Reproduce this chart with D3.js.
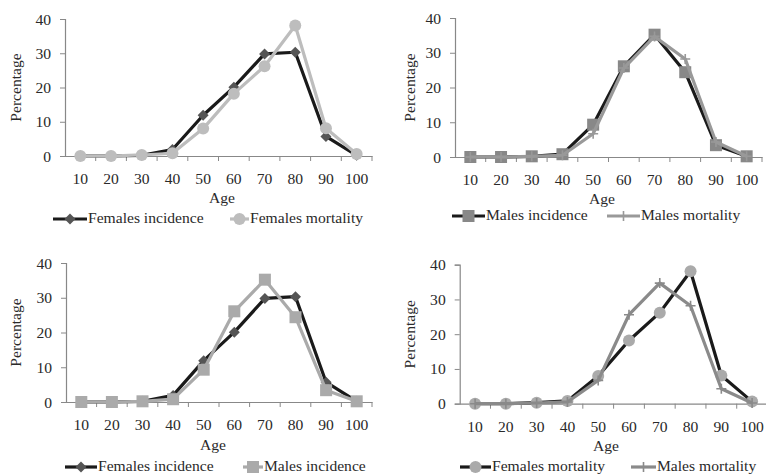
<!DOCTYPE html>
<html><head><meta charset="utf-8">
<script src="https://cdn.jsdelivr.net/npm/d3@7"></script>
<style>body{margin:0;background:#fff}svg{display:block}</style>
</head><body>
<svg id="c" width="766" height="474"></svg>
<script>
const ages = ["10","20","30","40","50","60","70","80","90","100"];
const yTicks = [0,10,20,30,40];
const femalesIncidence = [0,0,0.2,1.9,11.9,20.1,29.8,30.3,5.7,0.2];
const femalesMortality = [0,0,0.3,0.8,8.0,18.2,26.2,38.1,8.1,0.6];
const malesIncidence   = [0,0,0.2,0.8,9.3,26.1,35.2,24.4,3.4,0.2];
const malesMortality   = [0,0,0.2,0.5,6.7,25.6,34.7,28.2,4.3,0.2];

const svg = d3.select("#c");
const FONT = "'Liberation Serif','Times New Roman',serif";
const FS = 15.6;
const TXT = "#2a2a2a";

const styles = {
  fi: {name:"Females incidence", data:femalesIncidence, line:"#1a1a1a", fill:"#555", marker:"diamond"},
  fm: {name:"Females mortality", data:femalesMortality, line:"#bdbdbd", fill:"#bdbdbd", marker:"circle"},
  mi: {name:"Males incidence", data:malesIncidence, line:"#1a1a1a", fill:"#888", marker:"square"},
  mm: {name:"Males mortality", data:malesMortality, line:"#999", fill:"#999", marker:"plus"},
  mi3:{name:"Males incidence", data:malesIncidence, line:"#aaa", fill:"#aaa", marker:"square"},
  fm4:{name:"Females mortality", data:femalesMortality, line:"#1a1a1a", fill:"#aaa", marker:"circle"},
  mm4:{name:"Males mortality", data:malesMortality, line:"#8a8a8a", fill:"#8a8a8a", marker:"plus"}
};

const panels = [
  {x0:65, x1:372, yT:19, yB:156, series:["fi","fm"], ageY:199, ageX:222, pctX:17, legY:219, leg:[[53,87],[230,249]]},
  {x0:455, x1:762, yT:18, yB:157, series:["mi","mm"], ageY:200, ageX:602, pctX:411, legY:216, leg:[[452,485],[607,640]]},
  {x0:66, x1:372, yT:263, yB:402, series:["fi","mi3"], ageY:446, ageX:213, pctX:17, legY:467, leg:[[65,97],[243,263]]},
  {x0:459.7, x1:767.5, yT:264.7, yB:403.7, series:["fm4","mm4"], ageY:447, ageX:606, pctX:411, legY:467, leg:[[460,491],[631,656]]}
];

function drawMarker(g, type, x, y, fill){
  if(type==="diamond"){
    g.append("path").attr("d",`M${x},${y-5.5}L${x+5.5},${y}L${x},${y+5.5}L${x-5.5},${y}Z`).attr("fill",fill);
  } else if(type==="circle"){
    g.append("circle").attr("cx",x).attr("cy",y).attr("r",6).attr("fill",fill);
  } else if(type==="square"){
    g.append("rect").attr("x",x-6).attr("y",y-6).attr("width",12).attr("height",12).attr("fill",fill);
  } else if(type==="plus"){
    g.append("path").attr("d",`M${x-5},${y}H${x+5}M${x},${y-5}V${y+5}`).attr("stroke",fill).attr("stroke-width",1.6);
  }
}

panels.forEach(p=>{
  const g = svg.append("g");
  const x = d3.scaleBand().domain(ages).range([p.x0,p.x1]);
  const y = d3.scaleLinear().domain([0,40]).range([p.yB,p.yT]);

  const ya = g.append("g").attr("transform",`translate(${p.x0},0)`)
    .call(d3.axisLeft(y).tickValues(yTicks).tickSize(5).tickPadding(9));
  ya.select(".domain").attr("stroke","#888").attr("stroke-width",1.2);
  ya.selectAll(".tick line").attr("stroke","#888");
  ya.selectAll("text").attr("font-family",FONT).attr("font-size",FS).attr("fill",TXT);

  const xa = g.append("g").attr("transform",`translate(0,${p.yB})`)
    .call(d3.axisBottom(x).tickSize(0).tickPadding(17));
  xa.select(".domain").attr("stroke","#888").attr("stroke-width",1.2);
  xa.selectAll("text").attr("font-family",FONT).attr("font-size",FS).attr("fill",TXT);
  const bounds = ages.map(a=>x(a)).concat([x(ages[ages.length-1])+x.bandwidth()]).slice(1);
  xa.selectAll(".bt").data(bounds).enter().append("line")
    .attr("x1",d=>d).attr("x2",d=>d).attr("y1",0).attr("y2",5).attr("stroke","#888");

  g.append("text").attr("x",p.ageX).attr("y",p.ageY).attr("text-anchor","middle")
    .attr("dominant-baseline","middle").attr("font-family",FONT).attr("font-size",FS).attr("fill",TXT).text("Age");
  g.append("text").attr("transform",`translate(${p.pctX},${(p.yT+p.yB)/2}) rotate(-90)`)
    .attr("text-anchor","middle").attr("dominant-baseline","middle")
    .attr("font-family",FONT).attr("font-size",FS).attr("fill",TXT).text("Percentage");

  const line = d3.line().x((d,i)=>x(ages[i])+x.bandwidth()/2).y(d=>y(d));
  p.series.forEach((k,si)=>{
    const s = styles[k];
    const sg = g.append("g");
    sg.append("path").datum(s.data).attr("d",line).attr("fill","none")
      .attr("stroke",s.line).attr("stroke-width",3.2).attr("stroke-linejoin","round");
    s.data.forEach((v,i)=>drawMarker(sg,s.marker,x(ages[i])+x.bandwidth()/2,y(v),s.fill));
    const [lx0,lx1] = p.leg[si];
    const lg = g.append("g");
    lg.append("line").attr("x1",lx0).attr("x2",lx1).attr("y1",p.legY).attr("y2",p.legY)
      .attr("stroke",s.line).attr("stroke-width",3.2);
    drawMarker(lg,s.marker,(lx0+lx1)/2,p.legY,s.fill);
    lg.append("text").attr("x",lx1+1).attr("y",p.legY).attr("dominant-baseline","middle")
      .attr("font-family",FONT).attr("font-size",FS).attr("fill",TXT).text(s.name);
  });
});
</script>
</body></html>
